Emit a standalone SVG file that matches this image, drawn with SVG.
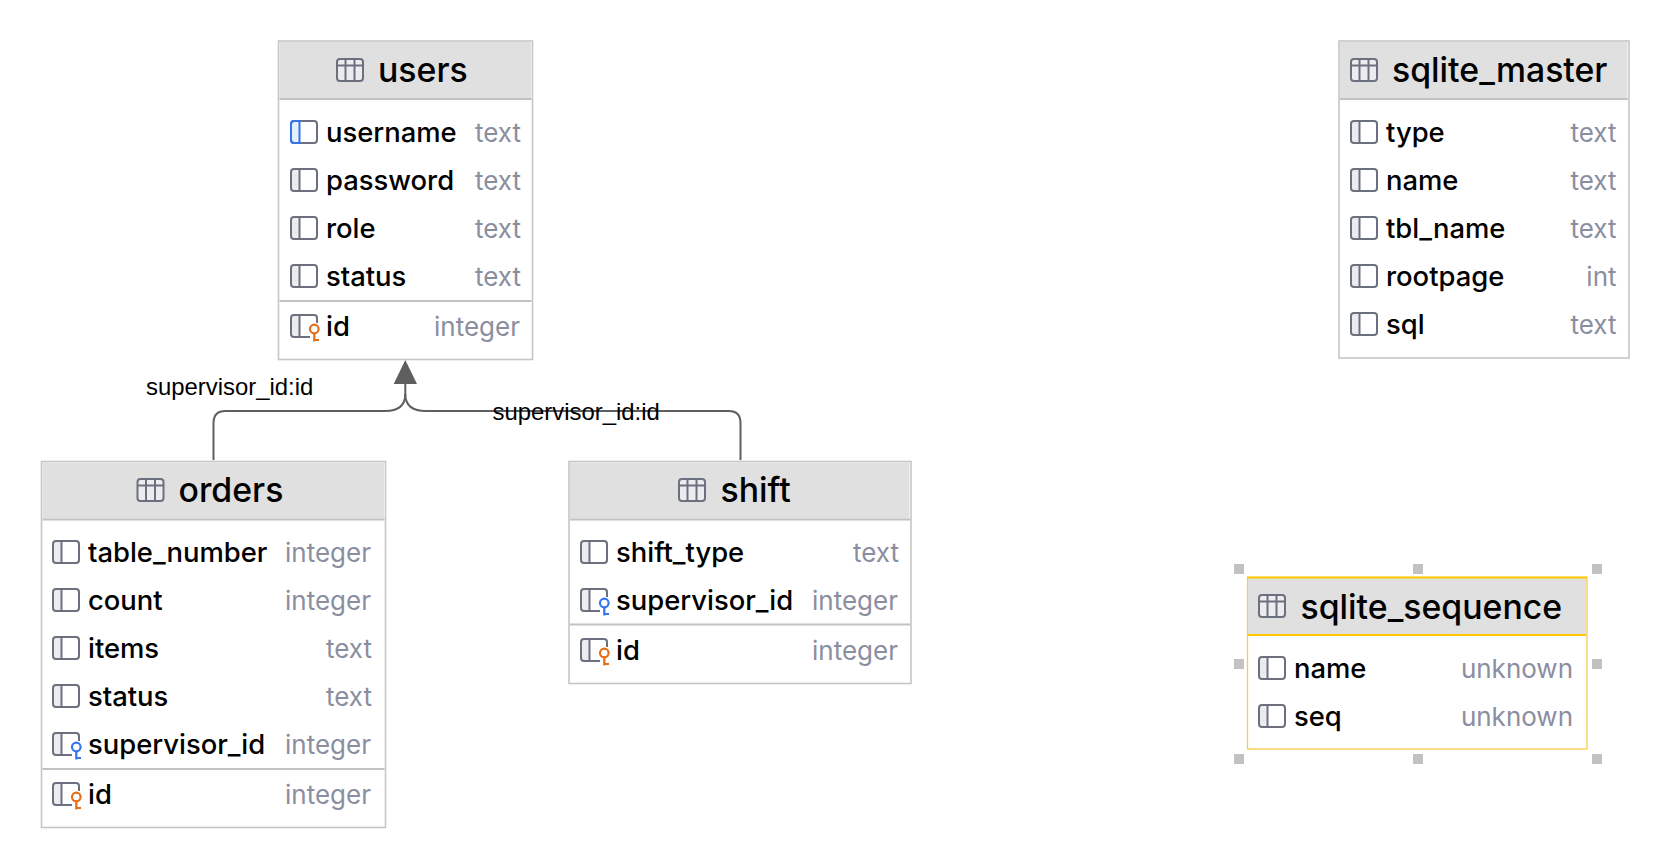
<svg xmlns="http://www.w3.org/2000/svg" width="1670" height="868" viewBox="0 0 1670 868">
<style>
text{font-family:Inter,"Noto Sans","Liberation Sans",sans-serif}
.box{fill:#fff;stroke:#c6c6c6;stroke-width:1.6}
.sel{fill:#fff;stroke:#fcca46;stroke-width:1.3}
.hd{fill:#e0e0e0}
.sep{stroke:#c2c2c2;stroke-width:2}
.t{font-size:33.8px;font-weight:500;fill:#000}
.n{font-size:27.4px;font-weight:500;fill:#000}
.y{font-size:26px;font-weight:400;fill:#8b8e9f;text-anchor:end}
.lb{font-family:"Liberation Sans",Arial,sans-serif;font-size:23.9px;fill:#000}
.c{fill:none;stroke:#5f5f5f;stroke-width:2}
.h{fill:#c2c2c2}
.i{fill:none;stroke:#6c707e;stroke-width:2}
.f{fill:#ebecf0}
</style>
<defs>
<g id="tbl"><rect x="1" y="1" width="26" height="22" rx="3" class="f"/><rect x="1" y="1" width="26" height="22" rx="3" class="i"/><path d="M1 7.5H27M9.5 1V23M18.5 1V23" class="i"/></g>
<g id="col"><path d="M1 4a3 3 0 0 1 3-3h5.500v22H4a3 3 0 0 1-3-3z" class="f"/><rect x="1" y="1" width="26" height="22" rx="3" class="i"/><path d="M9.500 1V23" class="i"/></g>
<g id="colb"><path d="M1 4a3 3 0 0 1 3-3h5.500v22H4a3 3 0 0 1-3-3z" fill="#e7effd"/><rect x="1" y="1" width="26" height="22" rx="3" class="i"/><path d="M9.500 1H4a3 3 0 0 0-3 3V20a3 3 0 0 0 3 3H9.500z" fill="none" stroke="#3574f0" stroke-width="2"/></g>
<g id="kcol"><path d="M1 4a3 3 0 0 1 3-3h5.500v22H4a3 3 0 0 1-3-3z" class="f"/><path d="M20 23H4a3 3 0 0 1-3-3V4a3 3 0 0 1 3-3H24a3 3 0 0 1 3 3V9M9.500 1V23" class="i"/></g>
<g id="pk"><use href="#kcol"/><g fill="none" stroke="#e66d17" stroke-width="2.200"><circle cx="24.300" cy="15" r="4.300"/><path d="M24.300 19.300V27.500M24.300 26H29"/></g></g>
<g id="fk"><use href="#kcol"/><g fill="none" stroke="#3574f0" stroke-width="2.200"><circle cx="24.300" cy="15" r="4.300"/><path d="M24.300 19.300V27.500M24.300 26H29"/></g></g>
</defs>

<g id="connectors">
<path class="c" d="M213.500 460V423Q213.500 411 225.500 411H385Q405.300 411 405.300 394V384"/>
<path class="c" d="M740.500 460V423Q740.500 411 728.500 411H426Q405.300 411 405.300 394"/>
<path d="M405.300 360L417 384H393.700Z" fill="#5f5f5f"/>
<text class="lb" x="146" y="394.500">supervisor_id:id</text>
<text class="lb" x="492.500" y="419.500">supervisor_id:id</text>
</g>

<g id="users">
<rect class="box" x="278.500" y="41" width="254" height="318.500"/>
<rect class="hd" x="279.500" y="42" width="251.500" height="56.500"/>
<path class="sep" d="M279.500 99H531.500M279.500 301H531.500"/>
<use href="#tbl" x="336" y="58"/><text class="t" x="378" y="82">users</text>
<use href="#colb" x="290" y="120"/><text class="n" x="326" y="141.800">username</text><text class="y" x="521" y="141.800">text</text>
<use href="#col" x="290" y="168"/><text class="n" x="326" y="189.800">password</text><text class="y" x="521" y="189.800">text</text>
<use href="#col" x="290" y="216"/><text class="n" x="326" y="237.800">role</text><text class="y" x="521" y="237.800">text</text>
<use href="#col" x="290" y="264"/><text class="n" x="326" y="285.800">status</text><text class="y" x="521" y="285.800">text</text>
<use href="#pk" x="290" y="314"/><text class="n" x="326" y="335.800">id</text><text class="y" x="520" y="335.800">integer</text>
</g>

<g id="orders">
<rect class="box" x="41.500" y="461.500" width="344" height="366"/>
<rect class="hd" x="42.500" y="462.500" width="341.500" height="56"/>
<path class="sep" d="M42.500 519.500H384.500M42.500 769H384.500"/>
<use href="#tbl" x="136.500" y="478"/><text class="t" x="178.500" y="502">orders</text>
<use href="#col" x="52" y="540"/><text class="n" x="88" y="561.800">table_number</text><text class="y" x="371" y="561.800">integer</text>
<use href="#col" x="52" y="588"/><text class="n" x="88" y="609.800">count</text><text class="y" x="371" y="609.800">integer</text>
<use href="#col" x="52" y="636"/><text class="n" x="88" y="657.800">items</text><text class="y" x="372" y="657.800">text</text>
<use href="#col" x="52" y="684"/><text class="n" x="88" y="705.800">status</text><text class="y" x="372" y="705.800">text</text>
<use href="#fk" x="52" y="732"/><text class="n" x="88" y="753.800">supervisor_id</text><text class="y" x="371" y="753.800">integer</text>
<use href="#pk" x="52" y="782"/><text class="n" x="88" y="803.800">id</text><text class="y" x="371" y="803.800">integer</text>
</g>

<g id="shift">
<rect class="box" x="569" y="461.500" width="342" height="222"/>
<rect class="hd" x="570" y="462.500" width="339.500" height="56"/>
<path class="sep" d="M570 519.500H910M570 624.500H910"/>
<use href="#tbl" x="678" y="478"/><text class="t" x="720.500" y="502">shift</text>
<use href="#col" x="580" y="540"/><text class="n" x="616" y="561.800">shift_type</text><text class="y" x="899" y="561.800">text</text>
<use href="#fk" x="580" y="588"/><text class="n" x="616" y="609.800">supervisor_id</text><text class="y" x="898" y="609.800">integer</text>
<use href="#pk" x="580" y="638"/><text class="n" x="616" y="659.800">id</text><text class="y" x="898" y="659.800">integer</text>
</g>

<g id="sqlite_master">
<rect class="box" x="1339" y="41" width="290" height="317"/>
<rect class="hd" x="1340" y="42" width="287.500" height="56.500"/>
<path class="sep" d="M1340 99H1628"/>
<use href="#tbl" x="1350" y="58"/><text class="t" x="1392" y="82">sqlite_master</text>
<use href="#col" x="1350" y="120"/><text class="n" x="1386" y="141.800">type</text><text class="y" x="1616.500" y="141.800">text</text>
<use href="#col" x="1350" y="168"/><text class="n" x="1386" y="189.800">name</text><text class="y" x="1616.500" y="189.800">text</text>
<use href="#col" x="1350" y="216"/><text class="n" x="1386" y="237.800">tbl_name</text><text class="y" x="1616.500" y="237.800">text</text>
<use href="#col" x="1350" y="264"/><text class="n" x="1386" y="285.800">rootpage</text><text class="y" x="1616.500" y="285.800">int</text>
<use href="#col" x="1350" y="312"/><text class="n" x="1386" y="333.800">sql</text><text class="y" x="1616.500" y="333.800">text</text>
</g>

<g id="sqlite_sequence">
<rect class="sel" x="1247.500" y="577.500" width="339.500" height="171.500"/>
<rect class="hd" x="1248" y="578" width="338" height="56"/>
<path d="M1247 577.500H1587" stroke="#ffc800" stroke-width="2" fill="none"/>
<path d="M1248 635H1586" stroke="#ffc800" stroke-width="2" fill="none"/>
<use href="#tbl" x="1258" y="594"/><text class="t" x="1300.500" y="619">sqlite_sequence</text>
<use href="#col" x="1258" y="656"/><text class="n" x="1294" y="677.800">name</text><text class="y" x="1573" y="677.800">unknown</text>
<use href="#col" x="1258" y="704"/><text class="n" x="1294" y="725.800">seq</text><text class="y" x="1573" y="725.800">unknown</text>
<g class="h"><rect x="1234" y="564" width="10" height="10"/><rect x="1413" y="564" width="10" height="10"/><rect x="1592" y="564" width="10" height="10"/><rect x="1234" y="659" width="10" height="10"/><rect x="1592" y="659" width="10" height="10"/><rect x="1234" y="754" width="10" height="10"/><rect x="1413" y="754" width="10" height="10"/><rect x="1592" y="754" width="10" height="10"/></g>
</g>
</svg>
